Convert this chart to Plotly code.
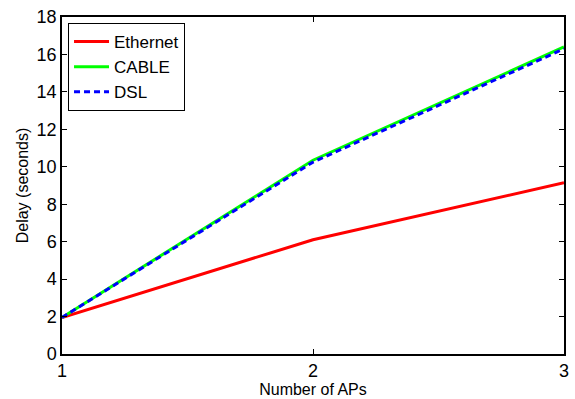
import plotly.graph_objects as go

aps = [1, 2, 3]
ethernet = [1.95, 6.1, 9.15]
cable = [1.95, 10.35, 16.4]
dsl = [1.95, 10.25, 16.3]

fig = go.Figure()
fig.add_trace(go.Scatter(x=aps, y=ethernet, mode="lines", name="Ethernet",
                         line=dict(color="#ff0000", width=3)))
fig.add_trace(go.Scatter(x=aps, y=cable, mode="lines", name="CABLE",
                         line=dict(color="#00ff00", width=3)))
fig.add_trace(go.Scatter(x=aps, y=dsl, mode="lines", name="DSL",
                         line=dict(color="#0000ff", width=3, dash="6px,4px")))

axis_common = dict(showgrid=False, zeroline=False, showline=True, linecolor="black",
                   linewidth=1.5, mirror="ticks", ticks="inside", ticklen=5,
                   tickcolor="black", tickfont=dict(size=18, color="black"))

fig.update_layout(
    width=575, height=399,
    margin=dict(l=62, r=6, t=17, b=44),
    paper_bgcolor="white", plot_bgcolor="white",
    font=dict(family="Liberation Sans, Arial, sans-serif", color="black"),
    xaxis=dict(range=[1, 3], tickvals=[1, 2, 3],
               title=dict(text="Number of APs", font=dict(size=16), standoff=0),
               **axis_common),
    yaxis=dict(range=[0, 18], tickvals=list(range(0, 19, 2)),
               title=dict(text="Delay (seconds)", font=dict(size=16), standoff=4),
               **axis_common),
    legend=dict(x=0.012, y=0.982, xanchor="left", yanchor="top",
                bordercolor="black", borderwidth=1, bgcolor="white",
                font=dict(size=17), tracegroupgap=0, itemwidth=35),
    showlegend=True,
)

fig.write_html("out.html")
